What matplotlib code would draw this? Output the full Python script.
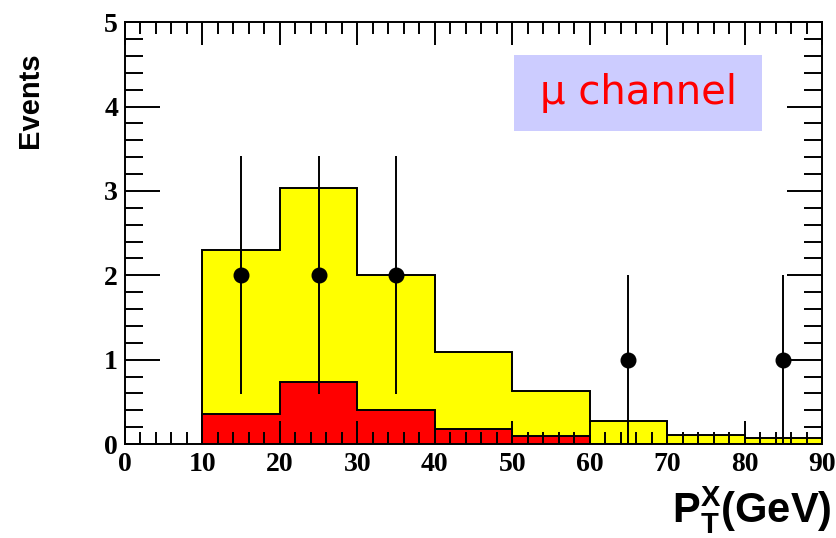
"""Stacked pT histogram of the mu channel with observed data points."""

import matplotlib

matplotlib.use("Agg")
import matplotlib.pyplot as plt
from matplotlib.patches import Rectangle
from matplotlib.ticker import MultipleLocator

# bin edges in GeV
bin_edges = [10, 20, 30, 40, 50, 60, 70, 80, 90]
# total expectation (yellow) and the red component stacked underneath
total_expected = [2.30, 3.04, 2.00, 1.09, 0.63, 0.27, 0.11, 0.07]
red_component = [0.36, 0.74, 0.40, 0.18, 0.09, 0.0, 0.0, 0.0]

# observed events
data_x = [15, 25, 35, 65, 85]
data_y = [2, 2, 2, 1, 1]
data_err = [1.41, 1.41, 1.41, 1.0, 1.0]

plt.rcParams.update({
    "mathtext.fontset": "custom",
    "mathtext.rm": "Liberation Sans",
    "mathtext.bf": "Liberation Sans:bold",
})

fig = plt.figure(figsize=(8.36, 5.38), dpi=100)
ax = fig.add_axes([0.1495, 0.1747, 0.8338, 0.7839])

lw = 1.4
ax.stairs(total_expected, bin_edges, fill=True, color="#ffff00", zorder=1)
ax.stairs(total_expected, bin_edges, baseline=0, color="black", lw=lw, zorder=1.2)
ax.stairs(red_component, bin_edges, fill=True, color="#ff0000", zorder=1.3)
ax.stairs(red_component, bin_edges, baseline=0, color="black", lw=lw, zorder=1.4)

ax.errorbar(data_x, data_y, yerr=data_err, fmt="o", color="black",
            markersize=10.5, elinewidth=lw, capsize=0, zorder=3, clip_on=False)

ax.set_xlim(0, 90)
ax.set_ylim(0, 5)
ax.xaxis.set_major_locator(MultipleLocator(10))
ax.xaxis.set_minor_locator(MultipleLocator(2))
ax.yaxis.set_major_locator(MultipleLocator(1))
ax.yaxis.set_minor_locator(MultipleLocator(0.2))

for side in ax.spines.values():
    side.set_linewidth(lw)

ax.tick_params(axis="both", which="both", direction="in", top=True, right=True,
               width=lw, color="black")
ax.tick_params(axis="x", which="major", length=16.5, pad=6)
ax.tick_params(axis="x", which="minor", length=8.5)
ax.tick_params(axis="y", which="major", length=25, pad=5)
ax.tick_params(axis="y", which="minor", length=13)

for lab in ax.get_xticklabels() + ax.get_yticklabels():
    lab.set_fontfamily("Liberation Serif")
    lab.set_fontweight("bold")
    lab.set_fontsize(20)

# channel label box
ax.add_patch(Rectangle((0.558, 0.742), 0.356, 0.180, transform=ax.transAxes,
                       facecolor="#ccccff", edgecolor="none", zorder=4))
ax.text(0.736, 0.832, "\u03bc channel", transform=ax.transAxes, ha="center",
        va="center", color="#ff0000", fontsize=29, family="DejaVu Sans", zorder=5)

fig.text(30 / 836, 1 - 100 / 538, "Events", rotation=90, ha="center", va="center",
         family="Liberation Sans", fontweight="bold", fontsize=21)
fig.text(0.995, 1 - 510 / 538, r"$\mathbf{P}_{\mathbf{T}}^{\mathbf{X}}$(GeV)",
         ha="right", va="center", family="Liberation Sans", fontweight="bold",
         fontsize=30)

fig.savefig("out.png", dpi=100)
